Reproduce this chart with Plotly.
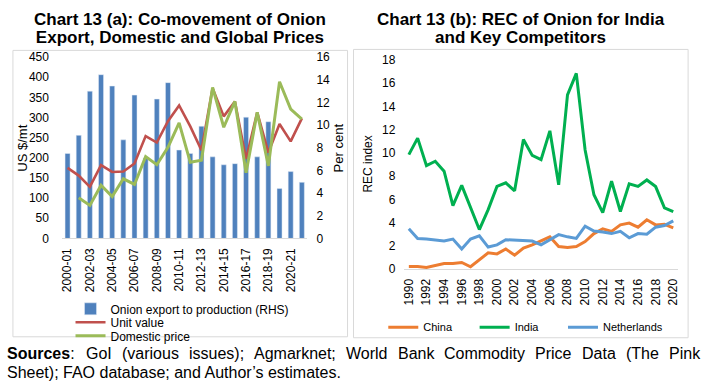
import plotly.graph_objects as go

# ---------------- data: Chart 13 (a) ----------------
years_a = ["2000-01", "2001-02", "2002-03", "2003-04", "2004-05", "2005-06", "2006-07",
           "2007-08", "2008-09", "2009-10", "2010-11", "2011-12", "2012-13", "2013-14",
           "2014-15", "2015-16", "2016-17", "2017-18", "2018-19", "2019-20", "2020-21",
           "2021-22"]
export_share = [7.5, 9.1, 13.0, 14.45, 13.45, 8.7, 12.65, 7.1, 12.3, 13.75, 7.8, 7.5,
                9.9, 7.2, 6.5, 6.6, 10.7, 7.2, 10.3, 4.4, 5.9, 4.95]
unit_value = [175, 156, 128, 182, 165, 166, 186, 254, 238, 291, 330, 278, 219, 373,
              303, 340, 197, 313, 213, 284, 241, 298]
domestic_price = [None, 101, 82, 132, 104, 148, 134, 203, 183, 226, 287, 189, 194, 375,
                  276, 340, 163, 313, 180, 389, 321, 296]
tick_a = years_a[::2]

# ---------------- data: Chart 13 (b) ----------------
years_b = list(range(1990, 2021))
china = [0.22, 0.22, 0.14, 0.28, 0.47, 0.47, 0.56, 0.19, 0.75, 1.39, 1.3, 1.72, 1.19,
         1.8, 2.08, 2.41, 2.77, 1.94, 1.86, 1.94, 2.36, 3.05, 3.46, 3.24, 3.8, 3.96,
         3.6, 4.24, 3.8, 3.85, 3.55]
india = [9.85, 11.27, 8.9, 9.28, 8.42, 5.46, 7.2, 5.26, 3.4, 5.12, 7.12, 7.42, 6.73,
         11.16, 9.78, 9.42, 11.9, 7.25, 15.0, 16.85, 10.25, 6.4, 4.85, 7.56, 4.95, 7.34,
         7.12, 7.67, 7.1, 5.26, 4.95]
netherlands = [3.46, 2.63, 2.58, 2.49, 2.41, 2.58, 1.72, 2.58, 2.86, 1.89, 2.08, 2.52,
               2.47, 2.41, 2.41, 2.08, 2.49, 2.96, 2.77, 2.63, 3.69, 3.27, 3.19, 3.05,
               3.24, 2.69, 3.05, 2.99, 3.6, 3.74, 4.15]
tick_b = years_b[::2]

W, H = 704, 392
FONT = "Liberation Sans, Arial, sans-serif"
TXT = "#000000"


def px_x(x):
    return x / W


def px_y(y):
    return 1 - y / H


fig = go.Figure()

# left chart
fig.add_trace(go.Bar(x=years_a, y=export_share, name="Onion export to production (RHS)",
                     marker_color="#4F81BD", xaxis="x", yaxis="y", legend="legend",
                     showlegend=True))
fig.add_trace(go.Scatter(x=years_a, y=unit_value, name="Unit value", mode="lines",
                         line=dict(color="#C0504D", width=2.6), xaxis="x", yaxis="y2",
                         legend="legend2", showlegend=True))
fig.add_trace(go.Scatter(x=years_a, y=domestic_price, name="Domestic price", mode="lines",
                         line=dict(color="#9BBB59", width=3), xaxis="x", yaxis="y2",
                         legend="legend3", showlegend=True))

# right chart
fig.add_trace(go.Scatter(x=years_b, y=china, name="China", mode="lines",
                         line=dict(color="#ED7D31", width=3), xaxis="x2", yaxis="y3",
                         legend="legend4", showlegend=True))
fig.add_trace(go.Scatter(x=years_b, y=india, name="India", mode="lines",
                         line=dict(color="#00B050", width=3), xaxis="x2", yaxis="y3",
                         legend="legend5", showlegend=True))
fig.add_trace(go.Scatter(x=years_b, y=netherlands, name="Netherlands", mode="lines",
                         line=dict(color="#5B9BD5", width=3), xaxis="x2", yaxis="y3",
                         legend="legend6", showlegend=True))

tickfont = dict(family=FONT, size=12, color=TXT)
axis_common = dict(showgrid=False, zeroline=False, tickfont=tickfont)

# left chart domains
xa_dom = [px_x(59.4), px_x(306.6)]
ya_dom = [px_y(240), px_y(52)]
# right chart domains
xb_dom = [px_x(404.3), px_x(679.5)]
yb_dom = [px_y(271.7), px_y(55)]


def leg(xpx, ypx, size):
    return dict(x=px_x(xpx), y=px_y(ypx), xanchor="left", yanchor="middle",
                orientation="v", font=dict(family=FONT, size=size, color=TXT),
                bgcolor="rgba(0,0,0,0)", borderwidth=0, itemwidth=30, tracegroupgap=0,
                visible=True)


fig.update_layout(
    width=W, height=H, margin=dict(l=0, r=0, t=0, b=0),
    paper_bgcolor="white", plot_bgcolor="white",
    font=dict(family=FONT, size=12, color=TXT),
    showlegend=True,
    bargap=0.55,
    xaxis=dict(domain=xa_dom, anchor="y", type="category", tickmode="array",
               tickvals=tick_a, ticktext=tick_a, tickangle=-90, showline=True,
               linecolor="#d9d9d9", linewidth=1, ticks="", ticklabelstandoff=4,
               **axis_common),
    yaxis=dict(domain=ya_dom, anchor="x", side="right", range=[0, 16], dtick=2,
               showline=False, ticks="", ticklabelstandoff=8, **axis_common),
    yaxis2=dict(domain=ya_dom, anchor="x", overlaying="y", side="left", range=[0, 450],
                dtick=50, showline=False, ticks="", ticklabelstandoff=12, **axis_common),
    xaxis2=dict(domain=xb_dom, anchor="y3", range=[1989.5, 2020.5], tickmode="array",
                tickvals=tick_b, ticktext=[str(t) for t in tick_b], tickangle=-90,
                showline=True, linecolor="#d9d9d9", linewidth=1, ticks="",
                ticklabelstandoff=4, **axis_common),
    yaxis3=dict(domain=yb_dom, anchor="x2", range=[0, 18], dtick=2, showline=False,
                ticks="", ticklabelstandoff=8, **axis_common),
    legend=leg(68, 313, 12),
    legend2=leg(68, 327, 12),
    legend3=leg(68, 341, 12),
    legend4=leg(383, 332, 11),
    legend5=leg(475, 332, 11),
    legend6=leg(564, 332, 11),
)

# chart frames
for x0, y0, x1, y1 in [(10, 45, 347, 342), (353, 44, 690, 343)]:
    fig.add_shape(type="rect", xref="paper", yref="paper",
                  x0=px_x(x0), x1=px_x(x1), y0=px_y(y1), y1=px_y(y0),
                  line=dict(color="#d9d9d9", width=1), fillcolor="rgba(0,0,0,0)",
                  layer="below")

ann = []
for cx, lines in [(178.5, ["Chart 13 (a): Co-movement of Onion",
                           "Export, Domestic and Global Prices"]),
                  (521.5, ["Chart 13 (b): REC of Onion for India",
                           "and Key Competitors"])]:
    txt = "<br>".join('<span style="font-size:17px"><b>%s</b></span>' % t for t in lines)
    ann.append(dict(text=txt, x=px_x(cx), y=px_y(22), xref="paper", yref="paper",
                    xanchor="center", yanchor="middle", showarrow=False,
                    font=dict(family=FONT, size=14, color=TXT)))

# axis titles
for t, x, y in [("US $/mt", 20, 146), ("Per cent", 338, 146), ("REC index", 368, 163)]:
    ann.append(dict(text=t, x=px_x(x), y=px_y(y), xref="paper", yref="paper",
                    xanchor="center", yanchor="middle", textangle=-90, showarrow=False,
                    font=dict(family=FONT, size=13 if t != "REC index" else 12, color=TXT)))

# sources (justified first line)
src_words = ["<b>Sources</b>:", "GoI", "(various", "issues);", "Agmarknet;", "World",
             "Bank", "Commodity", "Price", "Data", "(The", "Pink"]
src_x = [2, 81.1, 117.5, 185, 250.7, 343.1, 395.5, 442.5, 534, 581, 625.4, 668.9]
src_font = dict(family=FONT, size=16, color=TXT)
for w, x in zip(src_words, src_x):
    ann.append(dict(text=w, x=px_x(x), y=px_y(359), xref="paper", yref="paper",
                    xanchor="left", yanchor="middle", showarrow=False, font=src_font))
ann.append(dict(text="Sheet); FAO database; and Author\u2019s estimates.", x=px_x(2),
                y=px_y(379.5), xref="paper", yref="paper", xanchor="left",
                yanchor="middle", showarrow=False, font=src_font))

fig.update_layout(annotations=ann)

fig.write_html("out.html",
               config={"displayModeBar": False},
               post_script="document.body.style.margin='0px';"
                           "document.body.style.overflow='hidden';")
